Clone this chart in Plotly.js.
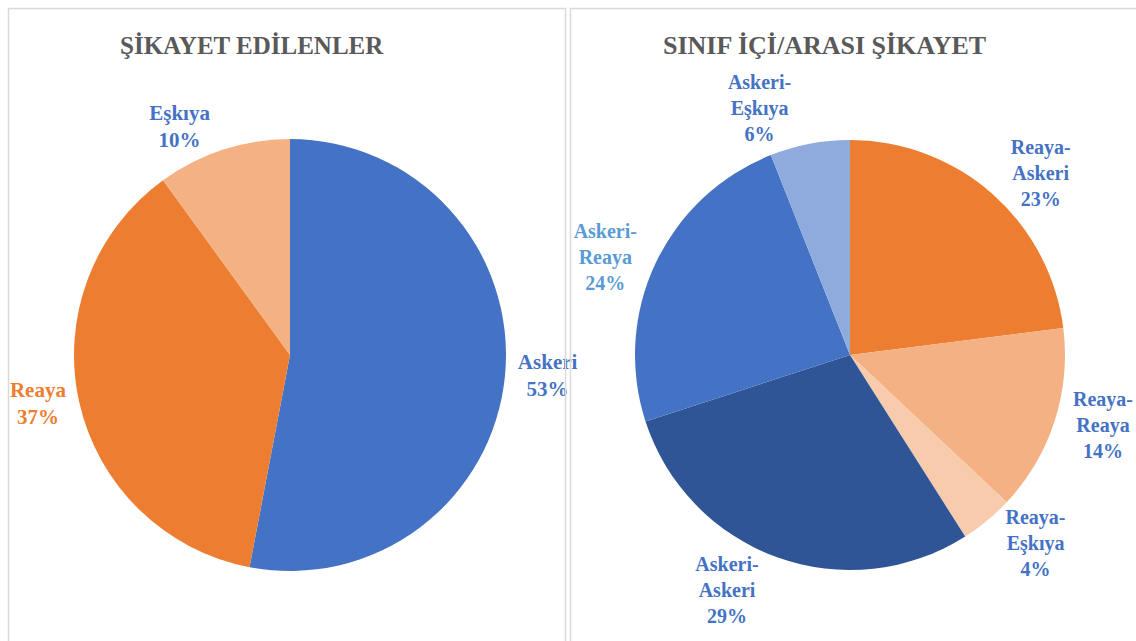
<!DOCTYPE html>
<html>
<head>
<meta charset="utf-8">
<script src="https://cdn.plot.ly/plotly-3.0.1.min.js"></script>
<style>
html,body{margin:0;padding:0;background:#fff;}
#chart{width:1136px;height:641px;}
</style>
</head>
<body>
<div id="chart"></div>
<script>
// Chart 1: Şikayet edilenler
var leftTitle = "ŞİKAYET EDİLENLER";
var leftLabels = ["Askeri", "Reaya", "Eşkıya"];
var leftValues = [53, 37, 10];
var leftColors = ["#4472C4", "#ED7D31", "#F4B183"];
var leftTextColors = ["#4472C4", "#ED7D31", "#4472C4"];

// Chart 2: Sınıf içi/arası şikayet
var rightTitle = "SINIF İÇİ/ARASI ŞİKAYET";
var rightLabels = ["Reaya-Askeri", "Reaya-Reaya", "Reaya-Eşkıya", "Askeri-Askeri", "Askeri-Reaya", "Askeri-Eşkıya"];
var rightValues = [23, 14, 4, 29, 24, 6];
var rightColors = ["#ED7D31", "#F4B183", "#F8CBAD", "#2F5597", "#4472C4", "#8FAADC"];
var rightTextColors = ["#4472C4", "#4472C4", "#4472C4", "#4472C4", "#5B9BD5", "#4472C4"];

var FONT = "'Liberation Serif', 'Times New Roman', serif";

function breakLabel(s) { return s.replace("-", "-<br>"); }

var W = 1136, H = 641;
function px(x) { return x / W; }
function py(y) { return 1 - y / H; }

var traces = [
  {
    type: "pie",
    labels: leftLabels,
    values: leftValues,
    text: leftLabels.map(breakLabel),
    sort: false,
    direction: "clockwise",
    rotation: 0,
    marker: { colors: leftColors, line: { width: 0 } },
    textposition: "outside",
    texttemplate: "<b>%{text}<br>%{percent:.0%}</b>",
    outsidetextfont: { family: FONT, size: 21, color: leftTextColors },
    hoverinfo: "label+percent",
    showlegend: false,
    domain: { x: [px(74), px(506)], y: [py(571), py(139)] }
  },
  {
    type: "pie",
    labels: rightLabels,
    values: rightValues,
    text: rightLabels.map(breakLabel),
    sort: false,
    direction: "clockwise",
    rotation: 0,
    marker: { colors: rightColors, line: { width: 0 } },
    textposition: "outside",
    texttemplate: "<b>%{text}<br>%{percent:.0%}</b>",
    outsidetextfont: { family: FONT, size: 20, color: rightTextColors },
    hoverinfo: "label+percent",
    showlegend: false,
    domain: { x: [px(635), px(1065)], y: [py(570), py(140)] }
  }
];

var layout = {
  width: W,
  height: H,
  margin: { l: 0, r: 0, t: 0, b: 0 },
  paper_bgcolor: "#ffffff",
  showlegend: false,
  font: { family: FONT },
  shapes: [
    { type: "rect", xref: "paper", yref: "paper", x0: px(8.5), x1: px(565.5), y0: py(650), y1: py(8.5),
      line: { color: "#D9D9D9", width: 1.5 }, fillcolor: "rgba(0,0,0,0)" },
    { type: "rect", xref: "paper", yref: "paper", x0: px(570.5), x1: px(1145), y0: py(650), y1: py(8.5),
      line: { color: "#D9D9D9", width: 1.5 }, fillcolor: "rgba(0,0,0,0)" }
  ],
  annotations: [
    { text: "<b>" + leftTitle + "</b>", xref: "paper", yref: "paper", x: px(252), y: py(45),
      xanchor: "center", yanchor: "middle", showarrow: false,
      font: { family: FONT, size: 25, color: "#595959" } },
    { text: "<b>" + rightTitle + "</b>", xref: "paper", yref: "paper", x: px(825), y: py(45),
      xanchor: "center", yanchor: "middle", showarrow: false,
      font: { family: FONT, size: 26, color: "#595959" } }
  ]
};

Plotly.newPlot("chart", traces, layout, { displayModeBar: false, staticPlot: true });
</script>
</body>
</html>
